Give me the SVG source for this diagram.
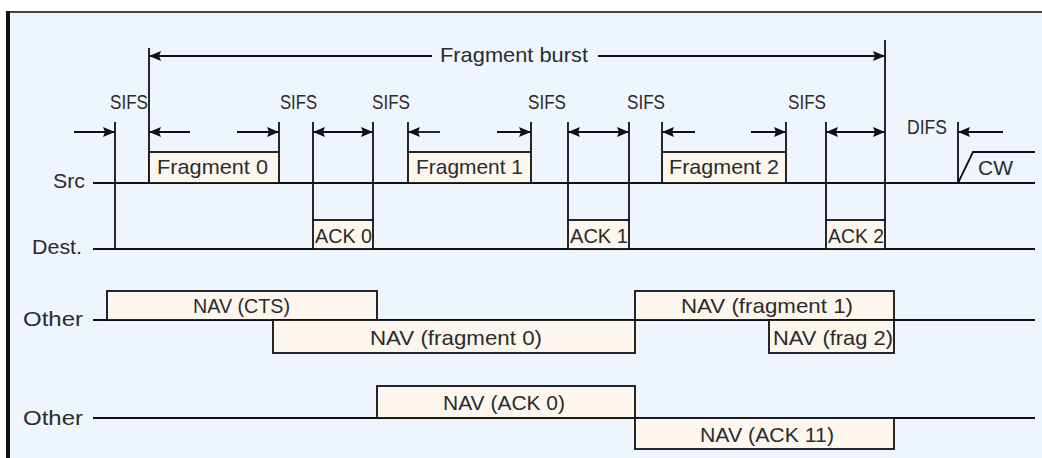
<svg xmlns="http://www.w3.org/2000/svg" width="1042" height="458" viewBox="0 0 1042 458">
  <style>
    .ln { stroke: #111; stroke-width: 1.8; fill: none; }
    .box { fill: #fdf6ef; stroke: #111; stroke-width: 1.8; }
    .arr { stroke: #111; stroke-width: 1.8; fill: none; marker-end: url(#tip); }
    .dbl { stroke: #111; stroke-width: 1.8; fill: none; marker-start: url(#tip); marker-end: url(#tip); }
    text { font-family: "Liberation Sans", Arial, sans-serif; fill: #2b2b2b; font-size: 21px; }
  </style>
  <defs>
    <marker id="tip" viewBox="0 0 12 10" refX="12" refY="5" markerWidth="12" markerHeight="10" markerUnits="userSpaceOnUse" orient="auto-start-reverse">
      <path d="M0,0 L12,5 L0,10 L2,5 z" fill="#111"/>
    </marker>
  </defs>

  <!-- page frame -->
  <rect x="0" y="0" width="1042" height="458" fill="#ffffff"/>
  <rect x="8" y="12" width="1034" height="446" fill="#eef5fd"/>
  <line x1="6" y1="12" x2="1042" y2="12" stroke="#444" stroke-width="2"/>
  <line x1="8" y1="11" x2="8" y2="458" stroke="#111" stroke-width="4"/>

  <!-- station labels -->
  <g id="labels">
    <text x="53" y="188" font-size="18" textLength="32" lengthAdjust="spacingAndGlyphs">Src</text>
    <text x="32" y="254" font-size="18" textLength="50" lengthAdjust="spacingAndGlyphs">Dest.</text>
    <text x="23" y="326" font-size="20" textLength="60" lengthAdjust="spacingAndGlyphs">Other</text>
    <text x="23" y="425" font-size="20" textLength="60" lengthAdjust="spacingAndGlyphs">Other</text>
  </g>

  <!-- time axes, timing markers and interval arrows -->
  <g id="connectors">
    <line class="ln" x1="93" y1="183" x2="1035" y2="183"/>
    <line class="ln" x1="93" y1="249" x2="1035" y2="249"/>
    <line class="ln" x1="93" y1="320" x2="1035" y2="320"/>
    <line class="ln" x1="93" y1="418" x2="1035" y2="418"/>

    <line class="ln" x1="115" y1="122" x2="115" y2="249"/>
    <line class="ln" x1="149" y1="48" x2="149" y2="183"/>
    <line class="ln" x1="279" y1="122" x2="279" y2="152"/>
    <line class="ln" x1="313" y1="122" x2="313" y2="220"/>
    <line class="ln" x1="373" y1="122" x2="373" y2="220"/>
    <line class="ln" x1="408" y1="122" x2="408" y2="152"/>
    <line class="ln" x1="531" y1="122" x2="531" y2="152"/>
    <line class="ln" x1="568" y1="122" x2="568" y2="220"/>
    <line class="ln" x1="629" y1="122" x2="629" y2="220"/>
    <line class="ln" x1="662" y1="122" x2="662" y2="152"/>
    <line class="ln" x1="786" y1="122" x2="786" y2="152"/>
    <line class="ln" x1="826" y1="122" x2="826" y2="220"/>
    <line class="ln" x1="885" y1="40" x2="885" y2="220"/>
    <line class="ln" x1="958" y1="122" x2="958" y2="183"/>

    <!-- fragment burst span -->
    <line class="arr" x1="432" y1="56" x2="149" y2="56"/>
    <line class="arr" x1="598" y1="56" x2="885" y2="56"/>

    <!-- SIFS / frame spans -->
    <line class="arr" x1="74" y1="132" x2="115" y2="132"/>
    <line class="arr" x1="190" y1="132" x2="149" y2="132"/>
    <line class="arr" x1="237" y1="132" x2="279" y2="132"/>
    <line class="dbl" x1="313" y1="132" x2="373" y2="132"/>
    <line class="arr" x1="440" y1="132" x2="408" y2="132"/>
    <line class="arr" x1="497" y1="132" x2="531" y2="132"/>
    <line class="dbl" x1="568" y1="132" x2="629" y2="132"/>
    <line class="arr" x1="695" y1="132" x2="662" y2="132"/>
    <line class="arr" x1="751" y1="132" x2="786" y2="132"/>
    <line class="dbl" x1="826" y1="132" x2="885" y2="132"/>
    <line class="arr" x1="1003" y1="132" x2="958" y2="132"/>

    <!-- contention window ramp -->
    <polyline class="ln" points="958,183 973,152 1035,152"/>
  </g>

  <!-- interval labels -->
  <g id="interval-labels">
    <text x="440" y="62" font-size="22" textLength="148" lengthAdjust="spacingAndGlyphs">Fragment burst</text>
    <text x="110" y="109" font-size="22" textLength="38" lengthAdjust="spacingAndGlyphs">SIFS</text>
    <text x="280" y="109" font-size="22" textLength="37" lengthAdjust="spacingAndGlyphs">SIFS</text>
    <text x="372" y="109" font-size="22" textLength="38" lengthAdjust="spacingAndGlyphs">SIFS</text>
    <text x="528" y="109" font-size="22" textLength="38" lengthAdjust="spacingAndGlyphs">SIFS</text>
    <text x="627" y="109" font-size="22" textLength="38" lengthAdjust="spacingAndGlyphs">SIFS</text>
    <text x="788" y="109" font-size="22" textLength="38" lengthAdjust="spacingAndGlyphs">SIFS</text>
    <text x="907" y="134" font-size="22" textLength="40" lengthAdjust="spacingAndGlyphs">DIFS</text>
    <text x="978" y="175" font-size="22" textLength="35" lengthAdjust="spacingAndGlyphs">CW</text>
  </g>

  <!-- source frames -->
  <g id="fragment-0">
    <rect class="box" x="149" y="152" width="130" height="31"/>
    <text x="157" y="174" font-size="22" textLength="111" lengthAdjust="spacingAndGlyphs">Fragment 0</text>
  </g>
  <g id="fragment-1">
    <rect class="box" x="408" y="152" width="123" height="31"/>
    <text x="416" y="174" font-size="22" textLength="107" lengthAdjust="spacingAndGlyphs">Fragment 1</text>
  </g>
  <g id="fragment-2">
    <rect class="box" x="662" y="152" width="124" height="31"/>
    <text x="669" y="174" font-size="22" textLength="110" lengthAdjust="spacingAndGlyphs">Fragment 2</text>
  </g>

  <!-- destination acknowledgements -->
  <g id="ack-0">
    <rect class="box" x="313" y="220" width="60" height="29"/>
    <text x="315" y="243" textLength="57" lengthAdjust="spacingAndGlyphs">ACK 0</text>
  </g>
  <g id="ack-1">
    <rect class="box" x="568" y="220" width="61" height="29"/>
    <text x="570" y="243" textLength="58" lengthAdjust="spacingAndGlyphs">ACK 1</text>
  </g>
  <g id="ack-2">
    <rect class="box" x="826" y="220" width="59" height="29"/>
    <text x="828" y="243" textLength="56" lengthAdjust="spacingAndGlyphs">ACK 2</text>
  </g>

  <!-- NAV settings at other stations -->
  <g id="nav-cts">
    <rect class="box" x="107" y="291" width="270" height="29"/>
    <text x="193" y="313" textLength="97" lengthAdjust="spacingAndGlyphs">NAV (CTS)</text>
  </g>
  <g id="nav-fragment-0">
    <rect class="box" x="273" y="320" width="362" height="33"/>
    <text x="370" y="345" textLength="172" lengthAdjust="spacingAndGlyphs">NAV (fragment 0)</text>
  </g>
  <g id="nav-fragment-1">
    <rect class="box" x="635" y="291" width="259" height="29"/>
    <text x="681" y="313" textLength="172" lengthAdjust="spacingAndGlyphs">NAV (fragment 1)</text>
  </g>
  <g id="nav-frag-2">
    <rect class="box" x="769" y="320" width="125" height="33"/>
    <text x="773" y="345" textLength="120" lengthAdjust="spacingAndGlyphs">NAV (frag 2)</text>
  </g>
  <g id="nav-ack-0">
    <rect class="box" x="377" y="386" width="258" height="32"/>
    <text x="443" y="410" textLength="122" lengthAdjust="spacingAndGlyphs">NAV (ACK 0)</text>
  </g>
  <g id="nav-ack-11">
    <rect class="box" x="635" y="418" width="259" height="31"/>
    <text x="700" y="442" textLength="134" lengthAdjust="spacingAndGlyphs">NAV (ACK 11)</text>
  </g>
</svg>
